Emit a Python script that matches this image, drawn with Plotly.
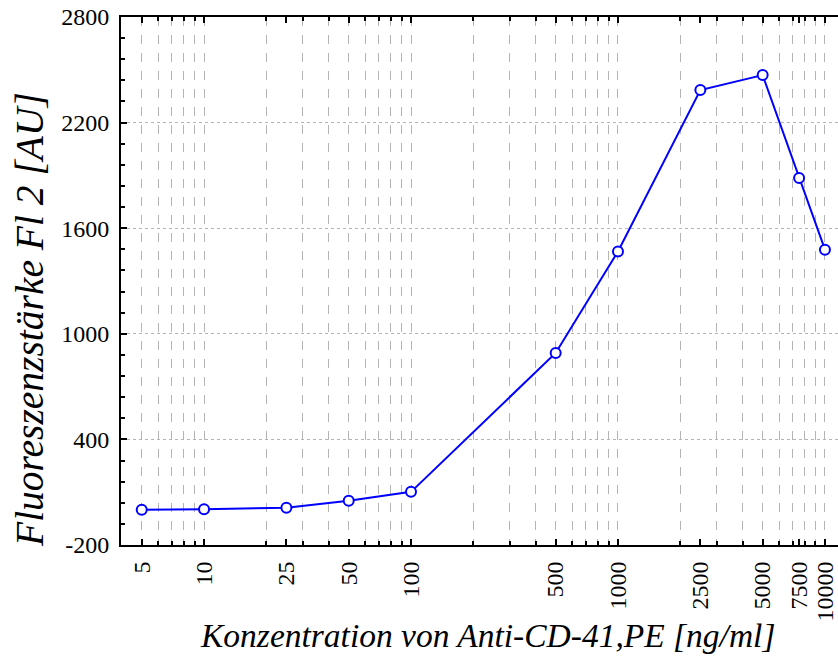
import plotly.graph_objects as go
import numpy as np

conc = [5, 10, 25, 50, 100, 500, 1000, 2500, 5000, 7500, 10000]
fluor = [0, 3, 12, 51, 102, 891, 1468, 2385, 2470, 1885, 1478]
x_tickvals = [5, 10, 25, 50, 100, 500, 1000, 2500, 5000, 7500, 10000]
x_ticktext = ["5", "10", "25", "50", "100", "500", "1000", "2500", "5000", "7500", "10000"]
y_tickvals = [-200, 400, 1000, 1600, 2200, 2800]
y_ticktext = ["-200", "400", "1000", "1600", "2200", "2800"]

FONT = "Liberation Serif"
GRID = "#b4b4b4"

fig = go.Figure()
fig.add_trace(go.Scatter(
    x=conc, y=fluor, mode="lines+markers",
    line=dict(color="#0000ff", width=2),
    marker=dict(symbol="circle", size=10, color="white",
                line=dict(color="#0000ff", width=2)),
    showlegend=False,
))

fig.update_layout(
    width=838, height=657,
    margin=dict(l=121, r=0, t=17, b=112),
    plot_bgcolor="white", paper_bgcolor="white",
    font=dict(family=FONT, size=24, color="black"),
    xaxis=dict(
        type="log", range=[np.log10(3.97), 4.063],
        tickmode="array", tickvals=x_tickvals, ticktext=x_ticktext,
        tickangle=-90, showgrid=False,
        ticks="inside", ticklen=6, tickwidth=1.5, tickcolor="black",
        showline=True, linecolor="black", linewidth=2, mirror="ticks",
        minor=dict(dtick="D1", showgrid=True, gridcolor=GRID, griddash="dash",
                   gridwidth=1, ticks="inside", ticklen=4, tickcolor="black"),
        tickfont=dict(family=FONT, size=24, color="black"),
        ticklabelstandoff=5,
        zeroline=False,
    ),
    yaxis=dict(
        range=[-200, 2800], tickmode="array", tickvals=y_tickvals, ticktext=y_ticktext,
        showgrid=True, gridcolor=GRID, griddash="dot", gridwidth=1.3,
        ticks="inside", ticklen=6, tickwidth=1.5, tickcolor="black",
        showline=True, linecolor="black", linewidth=2,
        minor=dict(dtick=120, tick0=-200, ticks="inside", ticklen=4, tickcolor="black",
                   showgrid=False),
        tickfont=dict(family=FONT, size=24, color="black"),
        ticklabelstandoff=5,
        zeroline=False,
    ),
    annotations=[
        dict(text="<i>Fluoreszenzstärke Fl 2 [AU]</i>", textangle=-90,
             xref="paper", yref="paper", x=(30-121)/717, y=(545-320)/528,
             xanchor="center", yanchor="middle", showarrow=False,
             font=dict(family=FONT, size=39.5, color="black")),
        dict(text="<i>Konzentration von Anti-CD-41,PE [ng/ml]</i>",
             xref="paper", yref="paper", x=(487-121)/717, y=-(635-545)/528,
             xanchor="center", yanchor="middle", showarrow=False,
             font=dict(family=FONT, size=33.5, color="black")),
    ],
)

fig.write_html("out.html")
